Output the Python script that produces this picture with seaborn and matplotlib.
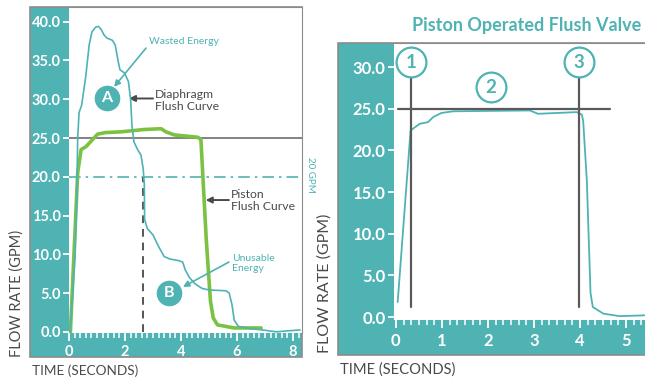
import numpy as np
import pandas as pd
import seaborn as sns
import matplotlib.pyplot as plt
from matplotlib.patches import Rectangle
from matplotlib.ticker import MultipleLocator

TEAL = '#4fb2b3'
GREEN = '#7cc242'
DARK = '#4a4a4a'
BORDER = '#8c8c8c'

# Diaphragm flush curve (left chart)
diaphragm_t = [0.04, 0.22, 0.28, 0.31, 0.36, 0.45, 0.6, 0.72, 0.82, 0.95, 1.05, 1.15, 1.25,
               1.35, 1.55, 1.65, 1.75, 1.82, 1.98, 2.12, 2.2, 2.25, 2.32, 2.45, 2.57, 2.65,
               2.69, 2.7, 2.8, 3.0, 3.2, 3.4, 3.6, 3.9, 4.06, 4.15, 4.3, 4.5, 4.75, 5.0,
               5.6, 5.72, 5.82, 5.9, 6.05, 6.5, 7.0, 7.4, 7.9, 8.25]
diaphragm_gpm = [0.0, 10.0, 18.0, 25.0, 28.3, 29.2, 33.0, 37.0, 38.7, 39.3, 39.4, 39.0, 38.3,
                 37.9, 37.6, 37.0, 35.0, 33.8, 33.4, 32.3, 30.0, 26.5, 24.5, 23.5, 22.8, 21.0,
                 19.0, 14.5, 13.3, 12.5, 11.0, 9.7, 9.4, 9.2, 9.0, 8.0, 7.0, 6.2, 5.6, 5.4,
                 5.3, 5.0, 3.5, 1.5, 0.7, 0.4, 0.2, 0.0, 0.15, 0.25]

# Piston flush curve (left chart)
piston_t = [0.05, 0.31, 0.43, 0.61, 0.79, 1.02, 1.3, 1.86, 2.69, 3.29, 3.46, 3.76, 4.6,
            4.71, 4.9, 5.05, 5.15, 5.3, 5.9, 6.86]
piston_gpm = [0.0, 20.5, 23.5, 23.9, 24.6, 25.5, 25.7, 25.8, 26.1, 26.2, 25.8, 25.4, 25.1,
              24.8, 12.0, 4.0, 1.8, 0.9, 0.5, 0.5]

# Piston operated flush valve (right chart)
valve_t = [0.04, 0.32, 0.52, 0.70, 0.81, 0.99, 1.25, 2.91, 3.09, 3.93, 4.04, 4.07, 4.15,
           4.23, 4.28, 4.51, 4.87, 5.4]
valve_gpm = [1.8, 22.4, 23.2, 23.4, 24.0, 24.5, 24.7, 24.8, 24.4, 24.6, 24.3, 23.6, 16.4,
             2.9, 1.2, 0.4, 0.1, 0.2]

left_yticks = [0, 5, 10, 15, 20, 25, 30, 35, 40]
left_xticks = [0, 2, 4, 6, 8]
right_yticks = [0, 5, 10, 15, 20, 25, 30]
right_xticks = [0, 1, 2, 3, 4, 5]

sns.set_style('white')
plt.rcParams['font.family'] = ['Lato', 'DejaVu Sans']

W, H = 645, 381
fig = plt.figure(figsize=(W / 100, H / 100), dpi=100)


def px_box(x0, y0, x1, y1):
    # pixel box (top-left origin) -> figure fraction rect
    return [x0 / W, (H - y1) / H, (x1 - x0) / W, (y1 - y0) / H]


# teal frames behind the plots
for x0, y0, x1, y1 in [(30, 7, 302, 357), (338, 43, 660, 355)]:
    l, b, w, h = px_box(x0, y0, x1, y1)
    fig.add_artist(Rectangle((l, b), w, h, transform=fig.transFigure,
                             facecolor=TEAL, edgecolor=BORDER, lw=1.2, zorder=-1))

ax1 = fig.add_axes(px_box(69, 7, 302, 333))
ax2 = fig.add_axes(px_box(394, 43, 660, 320))


def style_axes(ax, yticks, xticks, minor, size):
    ax.set_facecolor('white')
    ax.spines['left'].set_visible(False)
    ax.spines['bottom'].set_visible(False)
    ax.spines['top'].set_color(BORDER)
    ax.spines['right'].set_color(BORDER)
    ax.set_yticks(yticks, labels=[f'{v:.1f}' for v in yticks], fontweight='bold')
    ax.set_xticks(xticks, labels=[str(v) for v in xticks], fontweight='bold')
    ax.xaxis.set_minor_locator(MultipleLocator(minor))
    ax.tick_params(axis='both', which='both', colors='white', labelcolor='white',
                   labelsize=size, direction='out', left=True, bottom=True)
    ax.tick_params(axis='y', length=4, width=1.3, pad=2)
    ax.tick_params(axis='x', which='major', length=6, width=1.3, pad=3)
    ax.tick_params(axis='x', which='minor', length=3.5, width=1.1)
    ax.set_xlabel('')
    ax.set_ylabel('')


# ---- left chart ----
sns.lineplot(x=piston_t, y=piston_gpm, ax=ax1, color=GREEN, lw=2.6,
             estimator=None, sort=False, zorder=3)
sns.lineplot(x=diaphragm_t, y=diaphragm_gpm, ax=ax1, color=TEAL, lw=1.2,
             estimator=None, sort=False, zorder=4)
ax1.axhline(25, color='#606060', lw=1.1, zorder=2)
ax1.axhline(20, color=TEAL, lw=1.2, ls=(0, (7, 3, 1.5, 3)), zorder=2)
ax1.plot([2.65, 2.65], [0, 20], color='#555555', lw=1.4, ls=(0, (4, 3)), zorder=2)
ax1.set_xlim(0, 8.32)
ax1.set_ylim(-0.15, 41.9)
style_axes(ax1, left_yticks, left_xticks, 0.2, 10.5)

teal_arrow = dict(arrowstyle='-|>', color=TEAL, lw=1.2, mutation_scale=9, shrinkA=0, shrinkB=0)
dark_arrow = dict(arrowstyle='-|>', color=DARK, lw=1.4, mutation_scale=9, shrinkA=0, shrinkB=0)

ax1.text(2.86, 37.4, 'Wasted Energy', color=TEAL, fontsize=7.5, va='center', ha='left')
ax1.annotate('', xy=(1.61, 31.6), xytext=(2.75, 36.6), arrowprops=teal_arrow)
ax1.scatter([1.36], [30.1], s=340, color=TEAL, zorder=6, linewidths=0)
ax1.text(1.36, 30.1, 'A', color='white', fontsize=11.5, fontweight='bold',
         ha='center', va='center', zorder=7)

ax1.text(3.07, 29.8, 'Diaphragm\nFlush Curve', color=DARK, fontsize=8.8,
         va='center', ha='left', linespacing=1.15)
ax1.annotate('', xy=(2.14, 30.1), xytext=(3.0, 30.1), arrowprops=dark_arrow)

ax1.text(5.79, 16.9, 'Piston\nFlush Curve', color=DARK, fontsize=8.8,
         va='center', ha='left', linespacing=1.15)
ax1.annotate('', xy=(4.88, 17.0), xytext=(5.71, 17.0), arrowprops=dark_arrow)

ax1.text(5.82, 8.8, 'Unusable\nEnergy', color=TEAL, fontsize=7.5,
         va='center', ha='left', linespacing=1.1)
ax1.annotate('', xy=(4.07, 5.8), xytext=(5.71, 9.0), arrowprops=teal_arrow)
ax1.scatter([3.57], [5.0], s=340, color=TEAL, zorder=6, linewidths=0)
ax1.text(3.57, 5.0, 'B', color='white', fontsize=11.5, fontweight='bold',
         ha='center', va='center', zorder=7)

ax1.text(8.64, 20.3, '20 GPM', color=TEAL, fontsize=7, rotation=-90,
         ha='center', va='center', clip_on=False)

# ---- right chart ----
sns.lineplot(x=valve_t, y=valve_gpm, ax=ax2, color=TEAL, lw=1.3,
             estimator=None, sort=False, zorder=3)
for xv in [0.32, 3.98]:
    ax2.plot([xv, xv], [1.2, 29.0], color='#5a5a5a', lw=1.6, zorder=4)
ax2.plot([0.04, 4.65], [25, 25], color='#5a5a5a', lw=1.6, zorder=4)
for xc, yc, num in [(0.34, 30.6, '1'), (2.06, 27.6, '2'), (3.98, 30.6, '3')]:
    ax2.scatter([xc], [yc], s=460, facecolor='white', edgecolor=TEAL,
                linewidths=1.6, zorder=6)
    ax2.text(xc, yc, num, color=TEAL, fontsize=13.5, fontweight='bold',
             ha='center', va='center', zorder=7)
ax2.set_xlim(-0.04, 5.74)
ax2.set_ylim(-0.36, 32.9)
style_axes(ax2, right_yticks, right_xticks, 1 / 6, 12)

# ---- labels ----
fig.text(17 / W, (H - 357) / H, 'FLOW RATE (GPM)', rotation=90, color=DARK,
         fontsize=10.5, ha='center', va='bottom')
fig.text(325 / W, (H - 353) / H, 'FLOW RATE (GPM)', rotation=90, color=DARK,
         fontsize=11.5, ha='center', va='bottom')
fig.text(32 / W, (H - 371) / H, 'TIME (SECONDS)', color=DARK, fontsize=9.8,
         ha='left', va='center')
fig.text(340 / W, (H - 370) / H, 'TIME (SECONDS)', color=DARK, fontsize=10.6,
         ha='left', va='center')
fig.text(527 / W, (H - 26) / H, 'Piston Operated Flush Valve', color=TEAL,
         fontsize=13, fontweight='bold', ha='center', va='center')

fig.savefig('out.png', dpi=100)
